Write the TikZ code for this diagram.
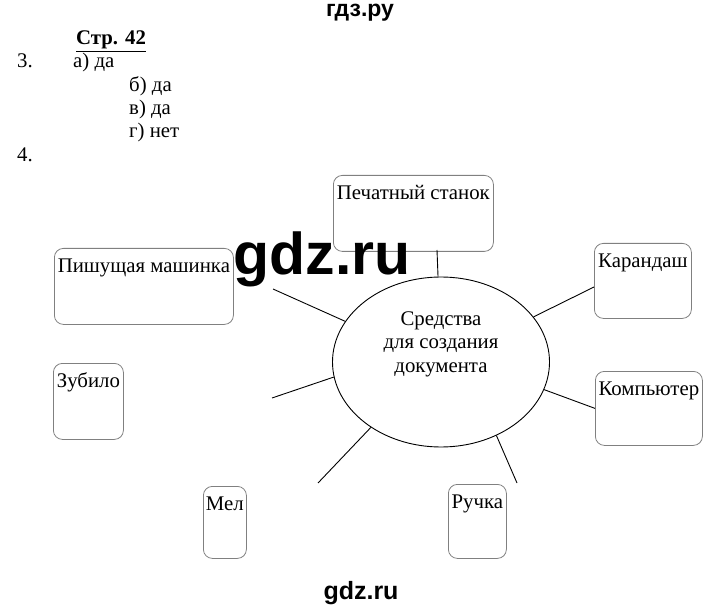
\documentclass[tikz,border=0pt]{standalone}
\usepackage{fontspec}
\setmainfont{Liberation Serif}
\newfontfamily\wmfont{Liberation Sans}
\usetikzlibrary{shapes.geometric,calc}
\definecolor{boxgray}{RGB}{128,128,128}
\tikzset{
  toolbox/.style={draw=boxgray, line width=0.8pt, rounded corners=9pt, inner xsep=1pt, inner ysep=3pt,
    text height=21pt, text depth=#1, anchor=north west},
  toolbox/.default=49pt,
  spoke/.style={line width=0.9pt},
  plain/.style={anchor=base west, inner sep=0pt},
  wmark/.style={anchor=base, inner sep=0pt, font=\wmfont\bfseries\fontsize{#1}{#1}\selectfont}
}

\begin{document}
\begin{tikzpicture}[x=1pt, y=-1pt, font=\fontsize{20.8}{23.5}\selectfont]
    \useasboundingbox (0,0) rectangle (720,612);

    % Answers to task 3
    \node[plain, font=\bfseries\fontsize{20.8}{23.5}\selectfont] (page) at (76,45) {\underline{Стр. 42}};
    \node[plain] (num3) at (17,68) {3.};
    \node[plain] (ansa) at (73,68) {а) да};
    \node[plain] (ansb) at (129,92) {б) да};
    \node[plain] (ansc) at (129,115) {в) да};
    \node[plain] (ansd) at (129,138) {г) нет};
    \node[plain] (num4) at (17,162) {4.};

    % Central ellipse
    \node[draw, ellipse, line width=0.9pt, minimum width=217pt, minimum height=170pt, inner sep=0pt] (doc) at (441,362) {};
    \node[align=center, inner sep=0pt] (doclabel) at (441,344) {Средства\\для создания\\документа};

    % Tools
    \node[toolbox, minimum width=160pt] (press) at (333,175) {Печатный станок};
    \node[toolbox=48pt, minimum width=97pt] (pencil) at (594,243) {Карандаш};
    \node[toolbox=47pt, minimum width=107pt] (computer) at (595,371) {Компьютер};
    \node[toolbox=47pt, minimum width=58pt] (pen) at (448,484) {Ручка};
    \node[toolbox=45pt, minimum width=43pt] (chalk) at (203,486) {Мел};
    \node[toolbox, minimum width=70pt] (chisel) at (53,363) {Зубило};
    \node[toolbox, minimum width=179pt] (typewriter) at (54,248) {Пишущая машинка};

    % Spokes
    \coordinate (pressend) at (437,250);
    \coordinate (pencilend) at (594,287);
    \coordinate (penend) at (517,483);
    \coordinate (chalkend) at (318,483);
    \coordinate (chiselend) at (272,398);
    \coordinate (typeend) at (273,289);
    \draw[spoke] (pressend) -- (doc.92);
    \draw[spoke] (pencilend) -- (doc.26);
    \draw[spoke] (computer.west) -- (doc.-15);
    \draw[spoke] (penend) -- (doc.-53);
    \draw[spoke] (chalkend) -- (doc.-137);
    \draw[spoke] (chiselend) -- (doc.188);
    \draw[spoke] (typeend) -- (doc.157);

    % Watermarks
    \node[wmark=23] (wmtop) at (360,17) {гдз.ру};
    \node[wmark=59] (wmmid) at (322,275) {gdz.ru};
    \node[wmark=25] (wmbot) at (361,599) {gdz.ru};
\end{tikzpicture}
\end{document}
